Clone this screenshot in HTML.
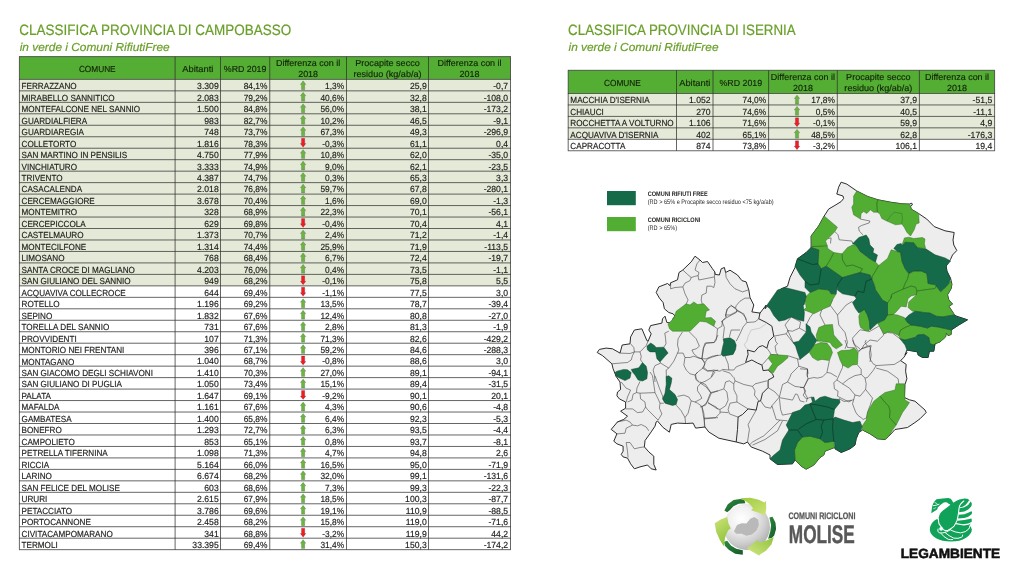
<!DOCTYPE html>
<html><head><meta charset="utf-8"><title>Classifica Comuni Ricicloni Molise</title><style>*{margin:0;padding:0}html,body{width:1024px;height:576px;background:#fff;overflow:hidden}
svg{display:block;font-family:"Liberation Sans",sans-serif;text-rendering:geometricPrecision}</style></head><body>
<svg width="1024" height="576" viewBox="0 0 1024 576">
<rect width="1024" height="576" fill="#fff"/>
<g opacity="0.999">
<g fill="#6a9f2a" stroke="#6a9f2a" stroke-width="0.2">
<text font-size="14.95" transform="translate(19.3 35.4) scale(0.9025 1)">CLASSIFICA PROVINCIA DI CAMPOBASSO</text>
<text font-size="11.5" font-style="italic" transform="translate(19.7 50.6) scale(1.034 1)">in verde i Comuni RifiutiFree</text>
<text font-size="14.95" transform="translate(568.1 35.4) scale(0.893 1)">CLASSIFICA PROVINCIA DI ISERNIA</text>
<text font-size="11.5" font-style="italic" transform="translate(568.5 50.6) scale(1.034 1)">in verde i Comuni RifiutiFree</text>
</g>
<rect x="19.4" y="56.6" width="491.10" height="22.80" fill="#54ae33"/>
<rect x="19.4" y="79.4" width="491.10" height="206.46" fill="#e5ead8"/>
<path d="M19.05 56.60H510.85M19.05 79.40H510.85M19.05 90.87H510.85M19.05 102.34H510.85M19.05 113.81H510.85M19.05 125.28H510.85M19.05 136.75H510.85M19.05 148.22H510.85M19.05 159.69H510.85M19.05 171.16H510.85M19.05 182.63H510.85M19.05 194.10H510.85M19.05 205.57H510.85M19.05 217.04H510.85M19.05 228.51H510.85M19.05 239.98H510.85M19.05 251.45H510.85M19.05 262.92H510.85M19.05 274.39H510.85M19.05 285.86H510.85M19.05 297.33H510.85M19.05 308.80H510.85M19.05 320.27H510.85M19.05 331.74H510.85M19.05 343.21H510.85M19.05 354.68H510.85M19.05 366.15H510.85M19.05 377.62H510.85M19.05 389.09H510.85M19.05 400.56H510.85M19.05 412.03H510.85M19.05 423.50H510.85M19.05 434.97H510.85M19.05 446.44H510.85M19.05 457.91H510.85M19.05 469.38H510.85M19.05 480.85H510.85M19.05 492.32H510.85M19.05 503.79H510.85M19.05 515.26H510.85M19.05 526.73H510.85M19.05 538.20H510.85M19.05 549.67H510.85M19.40 56.60V549.67M175.10 56.60V549.67M220.50 56.60V549.67M269.75 56.60V549.67M346.50 56.60V549.67M428.50 56.60V549.67M510.50 56.60V549.67" stroke="#333" stroke-width="0.75" fill="none"/>
<g font-size="8.8" fill="#13220b" stroke="#13220b" stroke-width="0.14" text-anchor="middle">
<text transform="translate(97.25 72.00) scale(0.94 1)">COMUNE</text>
<text transform="translate(197.80 72.00) scale(1.06 1)">Abitanti</text>
<text transform="translate(245.12 72.00) scale(1.0 1)">%RD 2019</text>
<text transform="translate(308.12 65.70) scale(1.02 1)">Differenza con il</text>
<text transform="translate(308.12 77.30) scale(1.02 1)">2018</text>
<text transform="translate(387.50 65.70) scale(1.03 1)">Procapite secco</text>
<text transform="translate(387.50 77.30) scale(1.03 1)">residuo (kg/ab/a)</text>
<text transform="translate(469.50 65.70) scale(1.02 1)">Differenza con il</text>
<text transform="translate(469.50 77.30) scale(1.02 1)">2018</text>
</g>
<g font-size="8.8" fill="#1d1d1b" stroke="#1d1d1b" stroke-width="0.16">
<text transform="matrix(0.925 0.0004 0 1 21.55 89.22)">FERRAZZANO</text>
<text text-anchor="end" transform="matrix(0.98 0.0004 0 1 218.70 89.22)">3.309</text>
<text text-anchor="end" transform="matrix(0.95 0.0004 0 1 267.35 89.22)">84,1%</text>
<text text-anchor="end" transform="matrix(0.95 0.0004 0 1 344.10 89.22)">1,3%</text>
<text text-anchor="end" transform="matrix(0.98 0.0004 0 1 426.70 89.22)">25,9</text>
<text text-anchor="end" transform="matrix(0.98 0.0004 0 1 508.10 89.22)">-0,7</text>
<path transform="translate(303.1 80.80)" d="M0 0 L2.8 3.6 L1.65 3.6 L1.65 9 L-1.65 9 L-1.65 3.6 L-2.8 3.6 Z" fill="#6cb244"/>
<text transform="matrix(0.925 0.0004 0 1 21.55 100.69)">MIRABELLO SANNITICO</text>
<text text-anchor="end" transform="matrix(0.98 0.0004 0 1 218.70 100.69)">2.083</text>
<text text-anchor="end" transform="matrix(0.95 0.0004 0 1 267.35 100.69)">79,2%</text>
<text text-anchor="end" transform="matrix(0.95 0.0004 0 1 344.10 100.69)">40,6%</text>
<text text-anchor="end" transform="matrix(0.98 0.0004 0 1 426.70 100.69)">32,8</text>
<text text-anchor="end" transform="matrix(0.98 0.0004 0 1 508.10 100.69)">-108,0</text>
<path transform="translate(303.1 92.27)" d="M0 0 L2.8 3.6 L1.65 3.6 L1.65 9 L-1.65 9 L-1.65 3.6 L-2.8 3.6 Z" fill="#6cb244"/>
<text transform="matrix(0.925 0.0004 0 1 21.55 112.16)">MONTEFALCONE NEL SANNIO</text>
<text text-anchor="end" transform="matrix(0.98 0.0004 0 1 218.70 112.16)">1.500</text>
<text text-anchor="end" transform="matrix(0.95 0.0004 0 1 267.35 112.16)">84,8%</text>
<text text-anchor="end" transform="matrix(0.95 0.0004 0 1 344.10 112.16)">56,0%</text>
<text text-anchor="end" transform="matrix(0.98 0.0004 0 1 426.70 112.16)">38,1</text>
<text text-anchor="end" transform="matrix(0.98 0.0004 0 1 508.10 112.16)">-173,2</text>
<path transform="translate(303.1 103.74)" d="M0 0 L2.8 3.6 L1.65 3.6 L1.65 9 L-1.65 9 L-1.65 3.6 L-2.8 3.6 Z" fill="#6cb244"/>
<text transform="matrix(0.925 0.0004 0 1 21.55 123.63)">GUARDIALFIERA</text>
<text text-anchor="end" transform="matrix(0.98 0.0004 0 1 218.70 123.63)">983</text>
<text text-anchor="end" transform="matrix(0.95 0.0004 0 1 267.35 123.63)">82,7%</text>
<text text-anchor="end" transform="matrix(0.95 0.0004 0 1 344.10 123.63)">10,2%</text>
<text text-anchor="end" transform="matrix(0.98 0.0004 0 1 426.70 123.63)">46,5</text>
<text text-anchor="end" transform="matrix(0.98 0.0004 0 1 508.10 123.63)">-9,1</text>
<path transform="translate(303.1 115.21)" d="M0 0 L2.8 3.6 L1.65 3.6 L1.65 9 L-1.65 9 L-1.65 3.6 L-2.8 3.6 Z" fill="#6cb244"/>
<text transform="matrix(0.925 0.0004 0 1 21.55 135.10)">GUARDIAREGIA</text>
<text text-anchor="end" transform="matrix(0.98 0.0004 0 1 218.70 135.10)">748</text>
<text text-anchor="end" transform="matrix(0.95 0.0004 0 1 267.35 135.10)">73,7%</text>
<text text-anchor="end" transform="matrix(0.95 0.0004 0 1 344.10 135.10)">67,3%</text>
<text text-anchor="end" transform="matrix(0.98 0.0004 0 1 426.70 135.10)">49,3</text>
<text text-anchor="end" transform="matrix(0.98 0.0004 0 1 508.10 135.10)">-296,9</text>
<path transform="translate(303.1 126.68)" d="M0 0 L2.8 3.6 L1.65 3.6 L1.65 9 L-1.65 9 L-1.65 3.6 L-2.8 3.6 Z" fill="#6cb244"/>
<text transform="matrix(0.925 0.0004 0 1 21.55 146.57)">COLLETORTO</text>
<text text-anchor="end" transform="matrix(0.98 0.0004 0 1 218.70 146.57)">1.816</text>
<text text-anchor="end" transform="matrix(0.95 0.0004 0 1 267.35 146.57)">78,3%</text>
<text text-anchor="end" transform="matrix(0.95 0.0004 0 1 344.10 146.57)">-0,3%</text>
<text text-anchor="end" transform="matrix(0.98 0.0004 0 1 426.70 146.57)">61,1</text>
<text text-anchor="end" transform="matrix(0.98 0.0004 0 1 508.10 146.57)">0,4</text>
<path transform="translate(303.1 138.15)" d="M0 9 L2.8 5.4 L1.65 5.4 L1.65 0 L-1.65 0 L-1.65 5.4 L-2.8 5.4 Z" fill="#ec1d24"/>
<text transform="matrix(0.925 0.0004 0 1 21.55 158.04)">SAN MARTINO IN PENSILIS</text>
<text text-anchor="end" transform="matrix(0.98 0.0004 0 1 218.70 158.04)">4.750</text>
<text text-anchor="end" transform="matrix(0.95 0.0004 0 1 267.35 158.04)">77,9%</text>
<text text-anchor="end" transform="matrix(0.95 0.0004 0 1 344.10 158.04)">10,8%</text>
<text text-anchor="end" transform="matrix(0.98 0.0004 0 1 426.70 158.04)">62,0</text>
<text text-anchor="end" transform="matrix(0.98 0.0004 0 1 508.10 158.04)">-35,0</text>
<path transform="translate(303.1 149.62)" d="M0 0 L2.8 3.6 L1.65 3.6 L1.65 9 L-1.65 9 L-1.65 3.6 L-2.8 3.6 Z" fill="#6cb244"/>
<text transform="matrix(0.925 0.0004 0 1 21.55 169.51)">VINCHIATURO</text>
<text text-anchor="end" transform="matrix(0.98 0.0004 0 1 218.70 169.51)">3.333</text>
<text text-anchor="end" transform="matrix(0.95 0.0004 0 1 267.35 169.51)">74,9%</text>
<text text-anchor="end" transform="matrix(0.95 0.0004 0 1 344.10 169.51)">9,0%</text>
<text text-anchor="end" transform="matrix(0.98 0.0004 0 1 426.70 169.51)">62,1</text>
<text text-anchor="end" transform="matrix(0.98 0.0004 0 1 508.10 169.51)">-23,5</text>
<path transform="translate(303.1 161.09)" d="M0 0 L2.8 3.6 L1.65 3.6 L1.65 9 L-1.65 9 L-1.65 3.6 L-2.8 3.6 Z" fill="#6cb244"/>
<text transform="matrix(0.925 0.0004 0 1 21.55 180.98)">TRIVENTO</text>
<text text-anchor="end" transform="matrix(0.98 0.0004 0 1 218.70 180.98)">4.387</text>
<text text-anchor="end" transform="matrix(0.95 0.0004 0 1 267.35 180.98)">74,7%</text>
<text text-anchor="end" transform="matrix(0.95 0.0004 0 1 344.10 180.98)">0,3%</text>
<text text-anchor="end" transform="matrix(0.98 0.0004 0 1 426.70 180.98)">65,3</text>
<text text-anchor="end" transform="matrix(0.98 0.0004 0 1 508.10 180.98)">3,3</text>
<path transform="translate(303.1 172.56)" d="M0 0 L2.8 3.6 L1.65 3.6 L1.65 9 L-1.65 9 L-1.65 3.6 L-2.8 3.6 Z" fill="#6cb244"/>
<text transform="matrix(0.925 0.0004 0 1 21.55 192.45)">CASACALENDA</text>
<text text-anchor="end" transform="matrix(0.98 0.0004 0 1 218.70 192.45)">2.018</text>
<text text-anchor="end" transform="matrix(0.95 0.0004 0 1 267.35 192.45)">76,8%</text>
<text text-anchor="end" transform="matrix(0.95 0.0004 0 1 344.10 192.45)">59,7%</text>
<text text-anchor="end" transform="matrix(0.98 0.0004 0 1 426.70 192.45)">67,8</text>
<text text-anchor="end" transform="matrix(0.98 0.0004 0 1 508.10 192.45)">-280,1</text>
<path transform="translate(303.1 184.03)" d="M0 0 L2.8 3.6 L1.65 3.6 L1.65 9 L-1.65 9 L-1.65 3.6 L-2.8 3.6 Z" fill="#6cb244"/>
<text transform="matrix(0.925 0.0004 0 1 21.55 203.92)">CERCEMAGGIORE</text>
<text text-anchor="end" transform="matrix(0.98 0.0004 0 1 218.70 203.92)">3.678</text>
<text text-anchor="end" transform="matrix(0.95 0.0004 0 1 267.35 203.92)">70,4%</text>
<text text-anchor="end" transform="matrix(0.95 0.0004 0 1 344.10 203.92)">1,6%</text>
<text text-anchor="end" transform="matrix(0.98 0.0004 0 1 426.70 203.92)">69,0</text>
<text text-anchor="end" transform="matrix(0.98 0.0004 0 1 508.10 203.92)">-1,3</text>
<path transform="translate(303.1 195.50)" d="M0 0 L2.8 3.6 L1.65 3.6 L1.65 9 L-1.65 9 L-1.65 3.6 L-2.8 3.6 Z" fill="#6cb244"/>
<text transform="matrix(0.925 0.0004 0 1 21.55 215.39)">MONTEMITRO</text>
<text text-anchor="end" transform="matrix(0.98 0.0004 0 1 218.70 215.39)">328</text>
<text text-anchor="end" transform="matrix(0.95 0.0004 0 1 267.35 215.39)">68,9%</text>
<text text-anchor="end" transform="matrix(0.95 0.0004 0 1 344.10 215.39)">22,3%</text>
<text text-anchor="end" transform="matrix(0.98 0.0004 0 1 426.70 215.39)">70,1</text>
<text text-anchor="end" transform="matrix(0.98 0.0004 0 1 508.10 215.39)">-56,1</text>
<path transform="translate(303.1 206.97)" d="M0 0 L2.8 3.6 L1.65 3.6 L1.65 9 L-1.65 9 L-1.65 3.6 L-2.8 3.6 Z" fill="#6cb244"/>
<text transform="matrix(0.925 0.0004 0 1 21.55 226.86)">CERCEPICCOLA</text>
<text text-anchor="end" transform="matrix(0.98 0.0004 0 1 218.70 226.86)">629</text>
<text text-anchor="end" transform="matrix(0.95 0.0004 0 1 267.35 226.86)">69,8%</text>
<text text-anchor="end" transform="matrix(0.95 0.0004 0 1 344.10 226.86)">-0,4%</text>
<text text-anchor="end" transform="matrix(0.98 0.0004 0 1 426.70 226.86)">70,4</text>
<text text-anchor="end" transform="matrix(0.98 0.0004 0 1 508.10 226.86)">4,1</text>
<path transform="translate(303.1 218.44)" d="M0 9 L2.8 5.4 L1.65 5.4 L1.65 0 L-1.65 0 L-1.65 5.4 L-2.8 5.4 Z" fill="#ec1d24"/>
<text transform="matrix(0.925 0.0004 0 1 21.55 238.33)">CASTELMAURO</text>
<text text-anchor="end" transform="matrix(0.98 0.0004 0 1 218.70 238.33)">1.373</text>
<text text-anchor="end" transform="matrix(0.95 0.0004 0 1 267.35 238.33)">70,7%</text>
<text text-anchor="end" transform="matrix(0.95 0.0004 0 1 344.10 238.33)">2,4%</text>
<text text-anchor="end" transform="matrix(0.98 0.0004 0 1 426.70 238.33)">71,2</text>
<text text-anchor="end" transform="matrix(0.98 0.0004 0 1 508.10 238.33)">-1,4</text>
<path transform="translate(303.1 229.91)" d="M0 0 L2.8 3.6 L1.65 3.6 L1.65 9 L-1.65 9 L-1.65 3.6 L-2.8 3.6 Z" fill="#6cb244"/>
<text transform="matrix(0.925 0.0004 0 1 21.55 249.80)">MONTECILFONE</text>
<text text-anchor="end" transform="matrix(0.98 0.0004 0 1 218.70 249.80)">1.314</text>
<text text-anchor="end" transform="matrix(0.95 0.0004 0 1 267.35 249.80)">74,4%</text>
<text text-anchor="end" transform="matrix(0.95 0.0004 0 1 344.10 249.80)">25,9%</text>
<text text-anchor="end" transform="matrix(0.98 0.0004 0 1 426.70 249.80)">71,9</text>
<text text-anchor="end" transform="matrix(0.98 0.0004 0 1 508.10 249.80)">-113,5</text>
<path transform="translate(303.1 241.38)" d="M0 0 L2.8 3.6 L1.65 3.6 L1.65 9 L-1.65 9 L-1.65 3.6 L-2.8 3.6 Z" fill="#6cb244"/>
<text transform="matrix(0.925 0.0004 0 1 21.55 261.27)">LIMOSANO</text>
<text text-anchor="end" transform="matrix(0.98 0.0004 0 1 218.70 261.27)">768</text>
<text text-anchor="end" transform="matrix(0.95 0.0004 0 1 267.35 261.27)">68,4%</text>
<text text-anchor="end" transform="matrix(0.95 0.0004 0 1 344.10 261.27)">6,7%</text>
<text text-anchor="end" transform="matrix(0.98 0.0004 0 1 426.70 261.27)">72,4</text>
<text text-anchor="end" transform="matrix(0.98 0.0004 0 1 508.10 261.27)">-19,7</text>
<path transform="translate(303.1 252.85)" d="M0 0 L2.8 3.6 L1.65 3.6 L1.65 9 L-1.65 9 L-1.65 3.6 L-2.8 3.6 Z" fill="#6cb244"/>
<text transform="matrix(0.925 0.0004 0 1 21.55 272.74)">SANTA CROCE DI MAGLIANO</text>
<text text-anchor="end" transform="matrix(0.98 0.0004 0 1 218.70 272.74)">4.203</text>
<text text-anchor="end" transform="matrix(0.95 0.0004 0 1 267.35 272.74)">76,0%</text>
<text text-anchor="end" transform="matrix(0.95 0.0004 0 1 344.10 272.74)">0,4%</text>
<text text-anchor="end" transform="matrix(0.98 0.0004 0 1 426.70 272.74)">73,5</text>
<text text-anchor="end" transform="matrix(0.98 0.0004 0 1 508.10 272.74)">-1,1</text>
<path transform="translate(303.1 264.32)" d="M0 0 L2.8 3.6 L1.65 3.6 L1.65 9 L-1.65 9 L-1.65 3.6 L-2.8 3.6 Z" fill="#6cb244"/>
<text transform="matrix(0.925 0.0004 0 1 21.55 284.21)">SAN GIULIANO DEL SANNIO</text>
<text text-anchor="end" transform="matrix(0.98 0.0004 0 1 218.70 284.21)">949</text>
<text text-anchor="end" transform="matrix(0.95 0.0004 0 1 267.35 284.21)">68,2%</text>
<text text-anchor="end" transform="matrix(0.95 0.0004 0 1 344.10 284.21)">-0,1%</text>
<text text-anchor="end" transform="matrix(0.98 0.0004 0 1 426.70 284.21)">75,8</text>
<text text-anchor="end" transform="matrix(0.98 0.0004 0 1 508.10 284.21)">5,5</text>
<path transform="translate(303.1 275.79)" d="M0 9 L2.8 5.4 L1.65 5.4 L1.65 0 L-1.65 0 L-1.65 5.4 L-2.8 5.4 Z" fill="#ec1d24"/>
<text transform="matrix(0.925 0.0004 0 1 21.55 295.68)">ACQUAVIVA COLLECROCE</text>
<text text-anchor="end" transform="matrix(0.98 0.0004 0 1 218.70 295.68)">644</text>
<text text-anchor="end" transform="matrix(0.95 0.0004 0 1 267.35 295.68)">69,4%</text>
<text text-anchor="end" transform="matrix(0.95 0.0004 0 1 344.10 295.68)">-1,1%</text>
<text text-anchor="end" transform="matrix(0.98 0.0004 0 1 426.70 295.68)">77,5</text>
<text text-anchor="end" transform="matrix(0.98 0.0004 0 1 508.10 295.68)">3,0</text>
<path transform="translate(303.1 287.26)" d="M0 9 L2.8 5.4 L1.65 5.4 L1.65 0 L-1.65 0 L-1.65 5.4 L-2.8 5.4 Z" fill="#ec1d24"/>
<text transform="matrix(0.925 0.0004 0 1 21.55 307.15)">ROTELLO</text>
<text text-anchor="end" transform="matrix(0.98 0.0004 0 1 218.70 307.15)">1.196</text>
<text text-anchor="end" transform="matrix(0.95 0.0004 0 1 267.35 307.15)">69,2%</text>
<text text-anchor="end" transform="matrix(0.95 0.0004 0 1 344.10 307.15)">13,5%</text>
<text text-anchor="end" transform="matrix(0.98 0.0004 0 1 426.70 307.15)">78,7</text>
<text text-anchor="end" transform="matrix(0.98 0.0004 0 1 508.10 307.15)">-39,4</text>
<path transform="translate(303.1 298.73)" d="M0 0 L2.8 3.6 L1.65 3.6 L1.65 9 L-1.65 9 L-1.65 3.6 L-2.8 3.6 Z" fill="#6cb244"/>
<text transform="matrix(0.925 0.0004 0 1 21.55 318.62)">SEPINO</text>
<text text-anchor="end" transform="matrix(0.98 0.0004 0 1 218.70 318.62)">1.832</text>
<text text-anchor="end" transform="matrix(0.95 0.0004 0 1 267.35 318.62)">67,6%</text>
<text text-anchor="end" transform="matrix(0.95 0.0004 0 1 344.10 318.62)">12,4%</text>
<text text-anchor="end" transform="matrix(0.98 0.0004 0 1 426.70 318.62)">80,8</text>
<text text-anchor="end" transform="matrix(0.98 0.0004 0 1 508.10 318.62)">-27,0</text>
<path transform="translate(303.1 310.20)" d="M0 0 L2.8 3.6 L1.65 3.6 L1.65 9 L-1.65 9 L-1.65 3.6 L-2.8 3.6 Z" fill="#6cb244"/>
<text transform="matrix(0.925 0.0004 0 1 21.55 330.09)">TORELLA DEL SANNIO</text>
<text text-anchor="end" transform="matrix(0.98 0.0004 0 1 218.70 330.09)">731</text>
<text text-anchor="end" transform="matrix(0.95 0.0004 0 1 267.35 330.09)">67,6%</text>
<text text-anchor="end" transform="matrix(0.95 0.0004 0 1 344.10 330.09)">2,8%</text>
<text text-anchor="end" transform="matrix(0.98 0.0004 0 1 426.70 330.09)">81,3</text>
<text text-anchor="end" transform="matrix(0.98 0.0004 0 1 508.10 330.09)">-1,9</text>
<path transform="translate(303.1 321.67)" d="M0 0 L2.8 3.6 L1.65 3.6 L1.65 9 L-1.65 9 L-1.65 3.6 L-2.8 3.6 Z" fill="#6cb244"/>
<text transform="matrix(0.925 0.0004 0 1 21.55 341.56)">PROVVIDENTI</text>
<text text-anchor="end" transform="matrix(0.98 0.0004 0 1 218.70 341.56)">107</text>
<text text-anchor="end" transform="matrix(0.95 0.0004 0 1 267.35 341.56)">71,3%</text>
<text text-anchor="end" transform="matrix(0.95 0.0004 0 1 344.10 341.56)">71,3%</text>
<text text-anchor="end" transform="matrix(0.98 0.0004 0 1 426.70 341.56)">82,6</text>
<text text-anchor="end" transform="matrix(0.98 0.0004 0 1 508.10 341.56)">-429,2</text>
<path transform="translate(303.1 333.14)" d="M0 0 L2.8 3.6 L1.65 3.6 L1.65 9 L-1.65 9 L-1.65 3.6 L-2.8 3.6 Z" fill="#6cb244"/>
<text transform="matrix(0.925 0.0004 0 1 21.55 353.03)">MONTORIO NEI FRENTANI</text>
<text text-anchor="end" transform="matrix(0.98 0.0004 0 1 218.70 353.03)">396</text>
<text text-anchor="end" transform="matrix(0.95 0.0004 0 1 267.35 353.03)">67,1%</text>
<text text-anchor="end" transform="matrix(0.95 0.0004 0 1 344.10 353.03)">59,2%</text>
<text text-anchor="end" transform="matrix(0.98 0.0004 0 1 426.70 353.03)">84,6</text>
<text text-anchor="end" transform="matrix(0.98 0.0004 0 1 508.10 353.03)">-288,3</text>
<path transform="translate(303.1 344.61)" d="M0 0 L2.8 3.6 L1.65 3.6 L1.65 9 L-1.65 9 L-1.65 3.6 L-2.8 3.6 Z" fill="#6cb244"/>
<text transform="matrix(0.925 0.0004 0 1 21.55 364.50)">MONTAGANO</text>
<text text-anchor="end" transform="matrix(0.98 0.0004 0 1 218.70 364.50)">1.040</text>
<text text-anchor="end" transform="matrix(0.95 0.0004 0 1 267.35 364.50)">68,7%</text>
<text text-anchor="end" transform="matrix(0.95 0.0004 0 1 344.10 364.50)">-0,8%</text>
<text text-anchor="end" transform="matrix(0.98 0.0004 0 1 426.70 364.50)">88,6</text>
<text text-anchor="end" transform="matrix(0.98 0.0004 0 1 508.10 364.50)">3,0</text>
<path transform="translate(303.1 356.08)" d="M0 9 L2.8 5.4 L1.65 5.4 L1.65 0 L-1.65 0 L-1.65 5.4 L-2.8 5.4 Z" fill="#ec1d24"/>
<text transform="matrix(0.925 0.0004 0 1 21.55 375.97)">SAN GIACOMO DEGLI SCHIAVONI</text>
<text text-anchor="end" transform="matrix(0.98 0.0004 0 1 218.70 375.97)">1.410</text>
<text text-anchor="end" transform="matrix(0.95 0.0004 0 1 267.35 375.97)">70,3%</text>
<text text-anchor="end" transform="matrix(0.95 0.0004 0 1 344.10 375.97)">27,0%</text>
<text text-anchor="end" transform="matrix(0.98 0.0004 0 1 426.70 375.97)">89,1</text>
<text text-anchor="end" transform="matrix(0.98 0.0004 0 1 508.10 375.97)">-94,1</text>
<path transform="translate(303.1 367.55)" d="M0 0 L2.8 3.6 L1.65 3.6 L1.65 9 L-1.65 9 L-1.65 3.6 L-2.8 3.6 Z" fill="#6cb244"/>
<text transform="matrix(0.925 0.0004 0 1 21.55 387.44)">SAN GIULIANO DI PUGLIA</text>
<text text-anchor="end" transform="matrix(0.98 0.0004 0 1 218.70 387.44)">1.050</text>
<text text-anchor="end" transform="matrix(0.95 0.0004 0 1 267.35 387.44)">73,4%</text>
<text text-anchor="end" transform="matrix(0.95 0.0004 0 1 344.10 387.44)">15,1%</text>
<text text-anchor="end" transform="matrix(0.98 0.0004 0 1 426.70 387.44)">89,4</text>
<text text-anchor="end" transform="matrix(0.98 0.0004 0 1 508.10 387.44)">-31,5</text>
<path transform="translate(303.1 379.02)" d="M0 0 L2.8 3.6 L1.65 3.6 L1.65 9 L-1.65 9 L-1.65 3.6 L-2.8 3.6 Z" fill="#6cb244"/>
<text transform="matrix(0.925 0.0004 0 1 21.55 398.91)">PALATA</text>
<text text-anchor="end" transform="matrix(0.98 0.0004 0 1 218.70 398.91)">1.647</text>
<text text-anchor="end" transform="matrix(0.95 0.0004 0 1 267.35 398.91)">69,1%</text>
<text text-anchor="end" transform="matrix(0.95 0.0004 0 1 344.10 398.91)">-9,2%</text>
<text text-anchor="end" transform="matrix(0.98 0.0004 0 1 426.70 398.91)">90,1</text>
<text text-anchor="end" transform="matrix(0.98 0.0004 0 1 508.10 398.91)">20,1</text>
<path transform="translate(303.1 390.49)" d="M0 9 L2.8 5.4 L1.65 5.4 L1.65 0 L-1.65 0 L-1.65 5.4 L-2.8 5.4 Z" fill="#ec1d24"/>
<text transform="matrix(0.925 0.0004 0 1 21.55 410.38)">MAFALDA</text>
<text text-anchor="end" transform="matrix(0.98 0.0004 0 1 218.70 410.38)">1.161</text>
<text text-anchor="end" transform="matrix(0.95 0.0004 0 1 267.35 410.38)">67,6%</text>
<text text-anchor="end" transform="matrix(0.95 0.0004 0 1 344.10 410.38)">4,3%</text>
<text text-anchor="end" transform="matrix(0.98 0.0004 0 1 426.70 410.38)">90,6</text>
<text text-anchor="end" transform="matrix(0.98 0.0004 0 1 508.10 410.38)">-4,8</text>
<path transform="translate(303.1 401.96)" d="M0 0 L2.8 3.6 L1.65 3.6 L1.65 9 L-1.65 9 L-1.65 3.6 L-2.8 3.6 Z" fill="#6cb244"/>
<text transform="matrix(0.925 0.0004 0 1 21.55 421.85)">GAMBATESA</text>
<text text-anchor="end" transform="matrix(0.98 0.0004 0 1 218.70 421.85)">1.400</text>
<text text-anchor="end" transform="matrix(0.95 0.0004 0 1 267.35 421.85)">65,8%</text>
<text text-anchor="end" transform="matrix(0.95 0.0004 0 1 344.10 421.85)">6,4%</text>
<text text-anchor="end" transform="matrix(0.98 0.0004 0 1 426.70 421.85)">92,3</text>
<text text-anchor="end" transform="matrix(0.98 0.0004 0 1 508.10 421.85)">-5,3</text>
<path transform="translate(303.1 413.43)" d="M0 0 L2.8 3.6 L1.65 3.6 L1.65 9 L-1.65 9 L-1.65 3.6 L-2.8 3.6 Z" fill="#6cb244"/>
<text transform="matrix(0.925 0.0004 0 1 21.55 433.32)">BONEFRO</text>
<text text-anchor="end" transform="matrix(0.98 0.0004 0 1 218.70 433.32)">1.293</text>
<text text-anchor="end" transform="matrix(0.95 0.0004 0 1 267.35 433.32)">72,7%</text>
<text text-anchor="end" transform="matrix(0.95 0.0004 0 1 344.10 433.32)">6,3%</text>
<text text-anchor="end" transform="matrix(0.98 0.0004 0 1 426.70 433.32)">93,5</text>
<text text-anchor="end" transform="matrix(0.98 0.0004 0 1 508.10 433.32)">-4,4</text>
<path transform="translate(303.1 424.90)" d="M0 0 L2.8 3.6 L1.65 3.6 L1.65 9 L-1.65 9 L-1.65 3.6 L-2.8 3.6 Z" fill="#6cb244"/>
<text transform="matrix(0.925 0.0004 0 1 21.55 444.79)">CAMPOLIETO</text>
<text text-anchor="end" transform="matrix(0.98 0.0004 0 1 218.70 444.79)">853</text>
<text text-anchor="end" transform="matrix(0.95 0.0004 0 1 267.35 444.79)">65,1%</text>
<text text-anchor="end" transform="matrix(0.95 0.0004 0 1 344.10 444.79)">0,8%</text>
<text text-anchor="end" transform="matrix(0.98 0.0004 0 1 426.70 444.79)">93,7</text>
<text text-anchor="end" transform="matrix(0.98 0.0004 0 1 508.10 444.79)">-8,1</text>
<path transform="translate(303.1 436.37)" d="M0 0 L2.8 3.6 L1.65 3.6 L1.65 9 L-1.65 9 L-1.65 3.6 L-2.8 3.6 Z" fill="#6cb244"/>
<text transform="matrix(0.925 0.0004 0 1 21.55 456.26)">PETRELLA TIFERNINA</text>
<text text-anchor="end" transform="matrix(0.98 0.0004 0 1 218.70 456.26)">1.098</text>
<text text-anchor="end" transform="matrix(0.95 0.0004 0 1 267.35 456.26)">71,3%</text>
<text text-anchor="end" transform="matrix(0.95 0.0004 0 1 344.10 456.26)">4,7%</text>
<text text-anchor="end" transform="matrix(0.98 0.0004 0 1 426.70 456.26)">94,8</text>
<text text-anchor="end" transform="matrix(0.98 0.0004 0 1 508.10 456.26)">2,6</text>
<path transform="translate(303.1 447.84)" d="M0 0 L2.8 3.6 L1.65 3.6 L1.65 9 L-1.65 9 L-1.65 3.6 L-2.8 3.6 Z" fill="#6cb244"/>
<text transform="matrix(0.925 0.0004 0 1 21.55 467.73)">RICCIA</text>
<text text-anchor="end" transform="matrix(0.98 0.0004 0 1 218.70 467.73)">5.164</text>
<text text-anchor="end" transform="matrix(0.95 0.0004 0 1 267.35 467.73)">66,0%</text>
<text text-anchor="end" transform="matrix(0.95 0.0004 0 1 344.10 467.73)">16,5%</text>
<text text-anchor="end" transform="matrix(0.98 0.0004 0 1 426.70 467.73)">95,0</text>
<text text-anchor="end" transform="matrix(0.98 0.0004 0 1 508.10 467.73)">-71,9</text>
<path transform="translate(303.1 459.31)" d="M0 0 L2.8 3.6 L1.65 3.6 L1.65 9 L-1.65 9 L-1.65 3.6 L-2.8 3.6 Z" fill="#6cb244"/>
<text transform="matrix(0.925 0.0004 0 1 21.55 479.20)">LARINO</text>
<text text-anchor="end" transform="matrix(0.98 0.0004 0 1 218.70 479.20)">6.674</text>
<text text-anchor="end" transform="matrix(0.95 0.0004 0 1 267.35 479.20)">68,2%</text>
<text text-anchor="end" transform="matrix(0.95 0.0004 0 1 344.10 479.20)">32,0%</text>
<text text-anchor="end" transform="matrix(0.98 0.0004 0 1 426.70 479.20)">99,1</text>
<text text-anchor="end" transform="matrix(0.98 0.0004 0 1 508.10 479.20)">-131,6</text>
<path transform="translate(303.1 470.78)" d="M0 0 L2.8 3.6 L1.65 3.6 L1.65 9 L-1.65 9 L-1.65 3.6 L-2.8 3.6 Z" fill="#6cb244"/>
<text transform="matrix(0.925 0.0004 0 1 21.55 490.67)">SAN FELICE DEL MOLISE</text>
<text text-anchor="end" transform="matrix(0.98 0.0004 0 1 218.70 490.67)">603</text>
<text text-anchor="end" transform="matrix(0.95 0.0004 0 1 267.35 490.67)">68,6%</text>
<text text-anchor="end" transform="matrix(0.95 0.0004 0 1 344.10 490.67)">7,3%</text>
<text text-anchor="end" transform="matrix(0.98 0.0004 0 1 426.70 490.67)">99,3</text>
<text text-anchor="end" transform="matrix(0.98 0.0004 0 1 508.10 490.67)">-22,3</text>
<path transform="translate(303.1 482.25)" d="M0 0 L2.8 3.6 L1.65 3.6 L1.65 9 L-1.65 9 L-1.65 3.6 L-2.8 3.6 Z" fill="#6cb244"/>
<text transform="matrix(0.925 0.0004 0 1 21.55 502.14)">URURI</text>
<text text-anchor="end" transform="matrix(0.98 0.0004 0 1 218.70 502.14)">2.615</text>
<text text-anchor="end" transform="matrix(0.95 0.0004 0 1 267.35 502.14)">67,9%</text>
<text text-anchor="end" transform="matrix(0.95 0.0004 0 1 344.10 502.14)">18,5%</text>
<text text-anchor="end" transform="matrix(0.98 0.0004 0 1 426.70 502.14)">100,3</text>
<text text-anchor="end" transform="matrix(0.98 0.0004 0 1 508.10 502.14)">-87,7</text>
<path transform="translate(303.1 493.72)" d="M0 0 L2.8 3.6 L1.65 3.6 L1.65 9 L-1.65 9 L-1.65 3.6 L-2.8 3.6 Z" fill="#6cb244"/>
<text transform="matrix(0.925 0.0004 0 1 21.55 513.61)">PETACCIATO</text>
<text text-anchor="end" transform="matrix(0.98 0.0004 0 1 218.70 513.61)">3.786</text>
<text text-anchor="end" transform="matrix(0.95 0.0004 0 1 267.35 513.61)">69,6%</text>
<text text-anchor="end" transform="matrix(0.95 0.0004 0 1 344.10 513.61)">19,1%</text>
<text text-anchor="end" transform="matrix(0.98 0.0004 0 1 426.70 513.61)">110,9</text>
<text text-anchor="end" transform="matrix(0.98 0.0004 0 1 508.10 513.61)">-88,5</text>
<path transform="translate(303.1 505.19)" d="M0 0 L2.8 3.6 L1.65 3.6 L1.65 9 L-1.65 9 L-1.65 3.6 L-2.8 3.6 Z" fill="#6cb244"/>
<text transform="matrix(0.925 0.0004 0 1 21.55 525.08)">PORTOCANNONE</text>
<text text-anchor="end" transform="matrix(0.98 0.0004 0 1 218.70 525.08)">2.458</text>
<text text-anchor="end" transform="matrix(0.95 0.0004 0 1 267.35 525.08)">68,2%</text>
<text text-anchor="end" transform="matrix(0.95 0.0004 0 1 344.10 525.08)">15,8%</text>
<text text-anchor="end" transform="matrix(0.98 0.0004 0 1 426.70 525.08)">119,0</text>
<text text-anchor="end" transform="matrix(0.98 0.0004 0 1 508.10 525.08)">-71,6</text>
<path transform="translate(303.1 516.66)" d="M0 0 L2.8 3.6 L1.65 3.6 L1.65 9 L-1.65 9 L-1.65 3.6 L-2.8 3.6 Z" fill="#6cb244"/>
<text transform="matrix(0.925 0.0004 0 1 21.55 536.55)">CIVITACAMPOMARANO</text>
<text text-anchor="end" transform="matrix(0.98 0.0004 0 1 218.70 536.55)">341</text>
<text text-anchor="end" transform="matrix(0.95 0.0004 0 1 267.35 536.55)">68,8%</text>
<text text-anchor="end" transform="matrix(0.95 0.0004 0 1 344.10 536.55)">-3,2%</text>
<text text-anchor="end" transform="matrix(0.98 0.0004 0 1 426.70 536.55)">119,9</text>
<text text-anchor="end" transform="matrix(0.98 0.0004 0 1 508.10 536.55)">44,2</text>
<path transform="translate(303.1 528.13)" d="M0 9 L2.8 5.4 L1.65 5.4 L1.65 0 L-1.65 0 L-1.65 5.4 L-2.8 5.4 Z" fill="#ec1d24"/>
<text transform="matrix(0.925 0.0004 0 1 21.55 548.02)">TERMOLI</text>
<text text-anchor="end" transform="matrix(0.98 0.0004 0 1 218.70 548.02)">33.395</text>
<text text-anchor="end" transform="matrix(0.95 0.0004 0 1 267.35 548.02)">69,4%</text>
<text text-anchor="end" transform="matrix(0.95 0.0004 0 1 344.10 548.02)">31,4%</text>
<text text-anchor="end" transform="matrix(0.98 0.0004 0 1 426.70 548.02)">150,3</text>
<text text-anchor="end" transform="matrix(0.98 0.0004 0 1 508.10 548.02)">-174,2</text>
<path transform="translate(303.1 539.60)" d="M0 0 L2.8 3.6 L1.65 3.6 L1.65 9 L-1.65 9 L-1.65 3.6 L-2.8 3.6 Z" fill="#6cb244"/>
</g>
<rect x="568.2" y="70.3" width="426.40" height="23.20" fill="#54ae33"/>
<rect x="568.2" y="93.5" width="426.40" height="45.80" fill="#e5ead8"/>
<path d="M567.85 70.30H994.95M567.85 93.50H994.95M567.85 104.95H994.95M567.85 116.40H994.95M567.85 127.85H994.95M567.85 139.30H994.95M567.85 150.75H994.95M568.20 70.30V150.75M676.50 70.30V150.75M713.00 70.30V150.75M768.60 70.30V150.75M837.30 70.30V150.75M919.40 70.30V150.75M994.60 70.30V150.75" stroke="#333" stroke-width="0.75" fill="none"/>
<g font-size="8.8" fill="#13220b" stroke="#13220b" stroke-width="0.14" text-anchor="middle">
<text transform="translate(622.35 85.90) scale(0.94 1)">COMUNE</text>
<text transform="translate(694.75 85.90) scale(1.06 1)">Abitanti</text>
<text transform="translate(740.80 85.90) scale(1.0 1)">%RD 2019</text>
<text transform="translate(802.95 79.60) scale(1.02 1)">Differenza con il</text>
<text transform="translate(802.95 91.20) scale(1.02 1)">2018</text>
<text transform="translate(878.35 79.60) scale(1.03 1)">Procapite secco</text>
<text transform="translate(878.35 91.20) scale(1.03 1)">residuo (kg/ab/a)</text>
<text transform="translate(957.00 79.60) scale(1.02 1)">Differenza con il</text>
<text transform="translate(957.00 91.20) scale(1.02 1)">2018</text>
</g>
<g font-size="8.8" fill="#1d1d1b" stroke="#1d1d1b" stroke-width="0.16">
<text transform="matrix(0.925 0.0004 0 1 570.35 103.30)">MACCHIA D'ISERNIA</text>
<text text-anchor="end" transform="matrix(0.98 0.0004 0 1 710.60 103.30)">1.052</text>
<text text-anchor="end" transform="matrix(0.95 0.0004 0 1 766.20 103.30)">74,0%</text>
<text text-anchor="end" transform="matrix(0.95 0.0004 0 1 834.90 103.30)">17,8%</text>
<text text-anchor="end" transform="matrix(0.98 0.0004 0 1 917.00 103.30)">37,9</text>
<text text-anchor="end" transform="matrix(0.98 0.0004 0 1 992.20 103.30)">-51,5</text>
<path transform="translate(797 94.90)" d="M0 0 L2.8 3.6 L1.65 3.6 L1.65 9 L-1.65 9 L-1.65 3.6 L-2.8 3.6 Z" fill="#6cb244"/>
<text transform="matrix(0.925 0.0004 0 1 570.35 114.75)">CHIAUCI</text>
<text text-anchor="end" transform="matrix(0.98 0.0004 0 1 710.60 114.75)">270</text>
<text text-anchor="end" transform="matrix(0.95 0.0004 0 1 766.20 114.75)">74,6%</text>
<text text-anchor="end" transform="matrix(0.95 0.0004 0 1 834.90 114.75)">0,5%</text>
<text text-anchor="end" transform="matrix(0.98 0.0004 0 1 917.00 114.75)">40,5</text>
<text text-anchor="end" transform="matrix(0.98 0.0004 0 1 992.20 114.75)">-11,1</text>
<path transform="translate(797 106.35)" d="M0 0 L2.8 3.6 L1.65 3.6 L1.65 9 L-1.65 9 L-1.65 3.6 L-2.8 3.6 Z" fill="#6cb244"/>
<text transform="matrix(0.925 0.0004 0 1 570.35 126.20)">ROCCHETTA A VOLTURNO</text>
<text text-anchor="end" transform="matrix(0.98 0.0004 0 1 710.60 126.20)">1.106</text>
<text text-anchor="end" transform="matrix(0.95 0.0004 0 1 766.20 126.20)">71,6%</text>
<text text-anchor="end" transform="matrix(0.95 0.0004 0 1 834.90 126.20)">-0,1%</text>
<text text-anchor="end" transform="matrix(0.98 0.0004 0 1 917.00 126.20)">59,9</text>
<text text-anchor="end" transform="matrix(0.98 0.0004 0 1 992.20 126.20)">4,9</text>
<path transform="translate(797 117.80)" d="M0 9 L2.8 5.4 L1.65 5.4 L1.65 0 L-1.65 0 L-1.65 5.4 L-2.8 5.4 Z" fill="#ec1d24"/>
<text transform="matrix(0.925 0.0004 0 1 570.35 137.65)">ACQUAVIVA D'ISERNIA</text>
<text text-anchor="end" transform="matrix(0.98 0.0004 0 1 710.60 137.65)">402</text>
<text text-anchor="end" transform="matrix(0.95 0.0004 0 1 766.20 137.65)">65,1%</text>
<text text-anchor="end" transform="matrix(0.95 0.0004 0 1 834.90 137.65)">48,5%</text>
<text text-anchor="end" transform="matrix(0.98 0.0004 0 1 917.00 137.65)">62,8</text>
<text text-anchor="end" transform="matrix(0.98 0.0004 0 1 992.20 137.65)">-176,3</text>
<path transform="translate(797 129.25)" d="M0 0 L2.8 3.6 L1.65 3.6 L1.65 9 L-1.65 9 L-1.65 3.6 L-2.8 3.6 Z" fill="#6cb244"/>
<text transform="matrix(0.925 0.0004 0 1 570.35 149.10)">CAPRACOTTA</text>
<text text-anchor="end" transform="matrix(0.98 0.0004 0 1 710.60 149.10)">874</text>
<text text-anchor="end" transform="matrix(0.95 0.0004 0 1 766.20 149.10)">73,8%</text>
<text text-anchor="end" transform="matrix(0.95 0.0004 0 1 834.90 149.10)">-3,2%</text>
<text text-anchor="end" transform="matrix(0.98 0.0004 0 1 917.00 149.10)">106,1</text>
<text text-anchor="end" transform="matrix(0.98 0.0004 0 1 992.20 149.10)">19,4</text>
<path transform="translate(797 140.70)" d="M0 9 L2.8 5.4 L1.65 5.4 L1.65 0 L-1.65 0 L-1.65 5.4 L-2.8 5.4 Z" fill="#ec1d24"/>
</g>
<g stroke-linejoin="round">
<path d="M841.1 182.2L846.8 184.1L856.8 191.0L868.0 196.6L878.0 199.8L890.5 202.2L901.8 203.8L909.2 204.1L911.8 203.2L912.4 204.8L910.5 206.0L911.1 209.1L918.6 213.5L926.8 219.1L934.2 226.6L945.0 230.8L954.2 232.5L953.0 240.0L953.8 245.0L956.8 250.5L952.5 255.0L950.5 259.5L946.2 266.0L946.9 271.0L950.6 278.5L951.9 284.1L951.2 288.5L947.5 294.8L948.8 299.8L952.5 304.1L948.8 306.2L953.8 313.8L955.0 315.6L967.5 319.8L958.8 325.0L951.2 330.0L951.2 334.4L948.1 335.6L946.2 333.1L945.6 336.9L940.0 341.9L935.0 343.8L933.8 351.2L929.4 351.2L928.1 357.5L922.5 357.5L918.1 355.0L917.5 351.9L906.9 350.0L905.0 355.0L906.9 352.5L903.8 357.5L900.6 360.6L906.2 364.4L905.6 371.2L906.9 378.8L905.0 384.4L904.4 397.5L909.4 399.8L915.0 401.2L925.0 410.0L926.2 412.5L920.0 418.8L915.0 422.5L907.5 427.5L895.0 429.5L888.8 436.2L885.0 439.5L877.5 438.8L870.0 433.8L862.5 430.0L858.8 432.5L856.2 438.8L855.0 445.0L850.0 448.8L841.2 452.5L835.0 448.8L834.5 447.5L825.0 451.2L823.8 455.0L820.0 457.5L813.8 465.0L806.2 469.2L801.2 466.2L795.0 460.0L792.5 463.8L777.5 464.5L770.0 458.8L770.0 455.0L762.5 451.2L751.2 447.0L747.5 442.0L743.8 443.9L736.2 442.0L718.8 438.2L708.8 432.0L705.0 427.0L700.0 427.6L695.6 428.1L693.1 423.1L686.2 423.5L677.5 423.1L671.2 424.4L669.4 432.2L663.1 427.5L657.5 421.0L656.2 421.9L655.0 426.2L651.2 431.9L645.0 440.6L644.4 446.9L648.8 451.9L653.8 456.2L653.8 464.4L656.2 470.0L651.2 468.8L647.5 465.0L640.0 466.9L634.4 468.8L630.6 463.8L627.5 458.1L623.1 456.9L621.2 454.4L623.1 451.2L623.1 446.2L616.9 443.8L613.8 441.2L616.9 433.8L611.2 429.4L617.5 421.9L623.8 419.4L627.5 416.2L620.6 411.2L625.6 408.2L625.6 402.0L619.4 398.9L616.9 395.8L617.5 392.0L620.6 389.5L620.0 382.0L615.6 375.8L615.6 375.0L613.1 368.8L611.9 363.8L602.5 355.6L597.2 352.5L599.4 349.4L606.2 348.1L612.5 348.8L620.0 353.1L622.2 345.0L630.0 343.8L630.6 336.9L634.4 330.0L641.9 328.8L646.9 340.6L648.1 341.2L651.2 333.8L648.8 330.0L650.6 325.6L661.9 323.1L662.5 318.8L665.0 316.2L666.9 322.5L672.5 323.1L673.1 318.1L675.0 316.9L675.0 316.2L673.1 313.8L668.8 312.5L664.4 308.8L663.1 302.5L659.4 298.1L656.2 292.5L658.8 286.9L667.5 283.5L670.0 285.6L670.6 282.8L677.5 279.8L679.0 272.5L682.8 270.0L691.2 261.9L695.0 256.2L700.0 260.0L702.5 262.5L707.5 261.5L712.5 268.8L714.8 271.9L715.2 274.4L719.4 275.0L721.2 268.8L724.4 267.5L725.6 272.5L730.0 270.2L737.5 275.0L741.9 280.6L746.2 281.9L748.8 290.0L750.0 297.5L753.8 305.0L751.9 311.9L760.0 313.1L766.2 305.0L765.0 308.8L775.0 297.5L781.2 288.8L787.5 286.2L790.0 277.5L795.0 267.5L797.5 258.8L806.2 252.5L811.2 247.5L811.1 248.0L811.1 236.0L818.6 226.0L824.2 216.0L828.6 209.1L834.9 205.4L841.1 201.6L843.6 198.5L843.0 196.0L836.8 194.1L838.6 187.2Z" fill="#ededed" stroke="#222" stroke-width="0.95"/>
<path d="M766.2 323.8L760.0 328.1L751.2 330.0L748.1 336.2L746.9 341.2L744.4 344.4L745.6 347.5L748.1 349.4" fill="none" stroke="#9a9a9a" stroke-width="0.4"/>
<path d="M682.8 270.0L687.5 274.4L691.2 277.5L694.4 276.5L698.1 275.6L698.8 280.0L705.0 278.8L714.4 276.9M700.0 260.0L696.9 263.8L695.0 270.0L699.0 272.5L698.1 275.6M714.8 271.9L714.4 276.9L715.0 282.5L713.8 287.5L711.2 286.2L706.9 286.2L706.2 293.1L701.9 295.0L701.2 300.0L702.5 305.0M670.6 282.8L670.6 288.8L675.0 287.5L682.8 286.9L685.0 283.1L690.0 280.6L691.2 277.5M682.8 286.9L685.0 293.8L688.1 300.0L685.6 305.0L686.2 306.9M725.6 272.5L726.2 277.5L730.0 283.8L735.0 288.8L742.5 291.9L748.1 290.0M750.0 298.1L745.0 298.1L740.0 301.2L736.2 305.6L735.6 308.1L737.5 311.2L743.8 313.8L746.2 320.0M735.6 308.1L731.2 305.6L727.5 308.8L725.6 315.0L730.0 315.0L737.5 311.2M725.6 315.0L726.2 318.1L721.2 322.0M630.6 343.8L633.8 347.5L634.4 351.9L640.0 351.9L646.2 345.6L648.1 341.2M620.0 353.1L630.0 353.5L634.4 351.9M640.0 351.9L641.2 356.2L640.6 360.0L642.5 362.5M611.9 363.8L620.0 363.1L627.5 362.5L631.2 360.0L632.5 355.6L634.4 351.9M668.8 331.2L664.8 333.1L665.6 338.8L666.0 343.8L663.8 347.2M682.5 331.9L678.1 338.8L677.5 345.0L678.8 350.0L677.5 353.1L673.8 361.2L668.8 368.1L660.6 363.1L660.0 361.9M660.6 363.1L655.0 365.6L653.1 370.0L654.4 375.0L655.0 382.0M668.8 368.1L666.2 370.0L666.5 382.0M689.4 331.9L696.2 338.8L699.4 346.2L696.2 348.8L691.9 350.0L693.8 353.8L698.1 357.5L701.9 358.8M677.5 353.1L683.1 353.1L685.0 357.5L683.8 365.0L686.2 370.0L690.0 373.8L695.0 375.0L698.8 371.2L703.8 367.5L705.0 362.5L701.9 358.8L698.8 358.1L693.8 356.2L690.0 357.5L685.0 357.5M701.9 358.8L703.8 347.5L706.2 343.1L713.8 342.5L716.2 338.8L718.0 335.0M695.0 375.0L696.2 380.0L698.8 382.0M703.8 367.5L707.5 370.6L713.8 371.2L718.0 370.0M705.0 362.5L707.5 358.8L718.0 355.0M621.2 382.0L626.2 388.2L630.6 390.1L627.5 397.0L626.2 402.0M640.0 381.4L636.9 388.2L636.5 392.6L640.0 393.2L655.0 392.6L658.1 398.9L660.0 403.2L663.8 403.2M636.5 392.6L633.1 394.2L631.9 400.1L627.5 402.0M640.0 393.2L640.6 398.9L645.0 402.0L645.6 407.0L642.5 412.0L637.5 412.6L632.5 408.9L625.6 408.9M645.6 407.0L647.5 409.5L658.1 420.1M650.0 372.0L652.5 375.8L655.0 392.6M655.0 375.8L659.4 388.2L662.5 395.8L663.1 398.9M660.0 403.2L659.4 408.2L661.9 413.9L658.1 420.1M676.2 405.1L681.2 410.8L685.0 417.6L685.6 423.2M677.5 396.4L683.8 395.1L688.8 397.0L691.2 400.8L689.4 408.2L688.1 413.2L685.0 417.6M691.2 400.8L695.0 402.0L698.8 400.1L701.9 398.2L700.0 394.5L697.5 390.8L697.5 387.0L700.6 383.2L696.2 378.9L695.6 374.5L697.5 372.0M700.6 383.2L706.2 387.0L710.6 392.6L708.1 398.9L705.6 405.1L701.9 406.4L697.5 403.2L695.0 402.0M701.9 406.4L703.8 413.2L704.4 418.9L704.4 427.0M704.4 418.9L718.0 417.6M710.6 392.6L718.0 390.8M708.1 403.2L716.2 407.0L718.0 409.5M700.6 383.2L706.2 380.8L711.2 377.6L715.0 372.0M616.9 422.0L626.2 420.1L630.0 422.0L632.5 425.1L626.2 428.2L625.0 433.2L616.9 433.9M632.5 425.1L637.5 425.8L641.2 424.5L646.2 427.0L648.8 430.8M626.2 442.5L627.5 451.2L628.1 457.5M626.2 442.5L630.0 442.5L634.4 448.8L640.0 447.5L644.4 446.9M730.6 305.0L736.2 309.4L741.2 312.5L745.6 317.5L746.9 322.5L755.0 321.9L758.8 318.8M730.0 306.2L726.9 309.4L725.6 315.6L726.9 317.5L736.2 312.5L736.9 310.0M725.6 317.5L722.5 320.6L721.9 326.2L717.5 328.8L713.1 325.6M717.5 328.8L716.9 335.0L716.2 340.0L714.4 342.5L705.0 343.1L703.1 348.8L701.9 358.8M721.9 321.2L724.4 327.5L723.1 338.1M746.9 322.5L743.1 326.9L740.0 333.8L736.2 341.2M740.0 330.0L731.2 330.0L729.4 336.9M721.2 355.0L712.5 356.2L706.2 358.8L701.9 358.8M725.0 356.2L728.1 363.8L728.8 370.0L733.8 370.0L736.2 366.9L745.6 363.1M701.9 358.8L705.0 363.8L702.5 368.1L707.5 371.2L713.8 370.0L720.0 371.2L722.5 369.4L728.8 370.0M713.8 370.6L711.2 377.0M722.5 370.6L730.0 373.1L733.1 377.0M773.8 336.2L786.2 333.8L790.0 338.8L793.1 342.5M786.2 333.8L788.1 330.6L792.5 331.2L799.4 328.1L800.6 321.9L791.2 316.9M788.1 330.6L785.0 325.0L791.2 316.9M799.4 328.1L806.2 331.9M775.0 336.9L775.6 341.2L777.5 343.8L775.0 346.2L776.2 352.5L778.1 355.0L770.6 354.4M766.9 348.1L770.0 352.5L770.6 354.4M787.5 355.6L797.5 358.8L800.0 359.4M797.5 358.8L798.8 366.2L795.0 370.0L791.2 373.8L790.0 377.0M798.8 366.2L807.5 368.8L807.5 377.0M768.1 358.1L763.1 363.8L761.9 365.0M700.0 382.0L705.6 384.5L711.2 393.2L707.5 402.0L702.5 406.4L700.0 407.0M711.2 393.2L723.8 388.9L726.9 392.0L728.1 400.1L725.6 405.8L720.0 409.5L716.2 408.2L707.5 402.0M723.8 388.9L725.6 382.0L729.4 380.8L733.8 383.9L735.0 380.8L733.8 377.0M733.8 383.9L733.8 389.5L736.9 395.8L736.9 402.0L730.0 403.2L728.1 409.5L729.4 413.9L736.2 416.4L738.1 417.0M735.0 380.8L743.8 384.5L752.5 386.4L755.0 383.9L766.9 380.8M752.5 386.4L755.0 390.8L754.4 395.1L758.8 400.8M736.9 402.0L748.1 408.9M720.0 409.5L720.0 413.2L715.6 417.6L703.8 418.2L701.9 407.0M703.8 418.2L705.0 427.0M720.0 412.0L728.1 412.6M756.2 410.1L748.1 424.5L749.4 429.5L747.5 442.0M768.1 387.6L775.0 392.0L779.4 397.0L771.9 405.8L776.2 419.5L780.0 420.1M760.6 400.8L765.0 407.0L770.6 408.2L771.9 405.8M779.4 397.0L782.5 384.5L787.5 382.0L790.0 377.0M787.5 382.0L795.0 386.4L803.8 387.6L808.1 378.9M803.8 387.6L805.0 393.2L807.5 398.2L806.2 402.0M779.4 397.6L792.5 400.1L795.6 393.9L797.5 394.5L800.0 400.8L804.4 402.0M779.4 398.2L780.6 409.5L782.5 415.1L792.5 413.2M780.0 420.1L771.9 428.2L763.8 435.8L752.5 442.0L749.4 445.1M782.5 420.8L777.5 430.8L765.0 439.5L752.5 445.1M780.0 420.1L787.5 420.8M858.1 352.5L861.2 348.8L867.5 346.2L871.2 345.6L869.4 352.5L870.0 358.8L873.1 363.8L876.2 365.6L894.4 364.4L900.6 360.6M876.2 365.6L873.1 370.6L867.5 377.5L865.0 378.1L861.2 374.4L861.2 369.4L857.5 365.0M876.2 368.1L887.5 371.2L893.8 375.6L898.1 378.8L898.8 383.8M865.0 378.1L866.2 383.8L865.6 389.4L860.0 396.2L855.0 395.0L849.4 388.1L842.5 383.8L848.8 378.8L855.0 375.6L861.2 374.4M865.6 389.4L872.5 398.1M842.5 383.8L836.9 380.0L833.8 382.5L834.4 388.8L838.1 391.2L837.5 396.2L841.2 398.1L848.8 401.9L853.8 399.4L855.0 395.0M836.9 380.0L842.5 367.5L842.5 365.0M836.9 376.9L830.6 373.1L826.9 372.5L822.5 376.9L817.5 378.1L813.8 377.5L808.1 378.8L806.9 375.0L807.5 369.4M829.4 360.6L826.9 372.5M808.1 378.8L803.8 387.5L805.6 391.2L803.1 395.0L806.2 398.8L811.9 396.9M853.8 399.4L852.5 403.8L855.6 412.0M800.0 368.8L807.5 369.4L808.1 373.8M800.0 387.5L803.8 387.5M852.5 340.0L855.0 345.0L860.0 348.8M845.0 340.0L847.5 347.5L854.4 347.8M867.5 346.2L865.0 342.5L866.2 340.0M860.5 219.1L869.9 221.0L869.2 222.9L861.8 225.4L858.6 227.2L859.2 231.0L863.0 234.8M834.9 231.6L838.0 234.8L839.2 239.8L851.8 241.0L853.0 243.5M828.0 238.5L831.1 237.9L830.5 243.5M832.5 300.0L830.0 305.0L837.5 315.0L846.2 305.0L852.5 301.2M837.5 315.0L838.8 325.0L845.0 332.5L847.5 342.5L845.0 348.8M880.0 326.2L883.8 335.0L877.5 341.2L870.0 340.0L863.8 345.0M822.5 307.5L820.0 315.0L825.0 325.0M813.8 312.5L810.0 317.5L806.2 325.0M787.5 330.0L793.8 343.8M868.8 331.2L860.0 329.8L852.5 338.1L853.8 343.8L858.1 351.2L861.9 348.8L863.8 345.0M861.9 348.8L870.0 346.2L871.2 355.0L870.0 362.0M868.8 331.9L878.8 326.2M883.8 333.8L887.5 332.5L892.5 333.1L900.0 338.8M855.6 412.0L857.8 415.2L862.8 419.0M872.5 398.1L870.2 405.2L867.8 411.5L866.5 417.8L862.8 419.6M839.0 398.4L844.0 401.5L851.5 400.2" fill="none" stroke="#333" stroke-width="0.55"/>
<path d="M760.0 312.8L758.8 318.8L766.2 322.5L771.9 326.2L773.8 336.2L768.8 341.2L766.9 348.1L762.5 345.6L758.8 346.9L754.4 351.9L747.5 350.0L748.1 354.4L745.6 362.5L751.9 360.0L757.5 363.1L761.9 365.0L763.1 370.6L768.1 370.0L772.5 373.8L773.8 377.0M773.8 377.0L768.1 380.1L768.1 387.6L762.5 393.2L760.6 400.8L758.1 401.4L756.2 410.1L748.1 408.9L742.5 414.5L738.1 417.0L737.5 429.5L736.2 442.0" fill="none" stroke="#1a1a1a" stroke-width="0.9"/>
<path d="M802.5 437.0L810.0 436.2L820.0 438.8L825.0 442.5L833.8 441.2L834.5 447.5L825.0 451.2L823.8 455.0L820.0 457.5L813.8 465.0L806.2 469.2L801.2 466.2L795.0 460.0L794.5 450.0L797.5 442.5ZM870.0 407.5L873.8 401.2L880.0 396.2L885.0 402.5L888.8 406.2L890.0 411.2L889.5 417.5L896.2 425.0L892.5 430.0L888.8 436.2L885.0 439.5L877.5 438.8L870.0 433.8L862.5 430.0L862.0 426.2L866.2 420.0L867.5 412.5ZM880.0 396.2L885.0 392.5L895.0 390.0L896.2 383.8L904.5 383.8L905.0 400.0L909.5 402.5L906.2 407.5L902.5 412.5L900.0 417.5L896.2 425.0L889.5 417.5L890.0 411.2L888.8 406.2L885.0 402.5ZM668.0 324.2L673.8 318.0L676.2 311.2L686.2 303.8L690.0 305.0L693.8 302.0L697.5 304.5L703.8 303.8L709.5 310.0L706.2 311.2L705.0 318.0L711.2 317.5L715.5 321.2L713.8 326.2L706.2 322.0L700.0 321.2L695.0 326.2L690.0 331.2L672.5 331.2L669.5 328.8ZM768.1 358.1L770.6 354.4L780.0 355.0L787.5 355.6L788.1 357.5L782.5 362.5L777.5 366.2L773.1 373.1L768.1 370.0L772.5 363.8L770.0 360.6ZM856.8 191.0L868.0 196.6L878.0 199.8L876.8 202.9L877.4 212.2L873.6 212.2L870.5 209.8L866.8 213.5L863.6 211.6L861.1 213.5L860.5 219.1L853.6 214.8L851.8 207.2L853.6 204.1L853.6 196.0ZM878.0 199.8L890.5 202.2L901.8 203.8L909.2 204.1L910.5 206.0L911.1 209.1L918.6 213.5L919.2 222.9L916.1 224.1L914.2 229.8L910.5 236.0L906.8 232.2L904.2 227.2L901.8 224.1L895.5 224.8L886.8 221.0L881.8 218.5L879.9 214.1L877.4 212.2L876.8 202.9ZM824.2 216.0L837.4 227.2L834.9 231.6L828.0 238.5L825.5 241.0L827.4 246.0L811.8 246.6L811.1 236.0L818.6 226.0ZM811.8 246.5L820.0 246.2L827.2 246.0L828.0 248.8L833.8 252.5L830.0 260.0L826.2 266.2L821.2 268.8L818.0 263.8L818.8 250.0L811.2 247.5ZM833.8 252.5L842.0 253.8L842.5 260.0L846.2 266.2L852.5 265.0L862.5 268.8L860.0 272.5L842.5 277.5L826.2 266.2L830.0 260.0ZM842.0 253.8L847.5 247.5L852.5 245.0L856.2 245.0L860.0 251.2L865.0 255.0L870.0 258.8L875.5 262.0L878.8 265.5L872.5 276.0L871.8 279.0L870.0 275.0L860.0 272.5L862.5 268.8L852.5 265.0L846.2 266.2L842.5 260.0ZM891.2 249.8L897.5 251.6L900.6 252.2L901.9 261.0L905.0 268.5L908.8 273.5L907.5 279.1L905.0 283.5L903.1 289.1L891.9 294.1L891.2 297.9L887.5 302.9L882.5 300.4L875.6 289.8L874.4 284.8L871.9 279.1L872.5 276.0L878.8 265.4L887.5 258.5ZM901.9 245.4L904.4 237.9L908.8 237.2L913.8 238.5L922.5 237.5L925.0 239.1L924.4 243.5L925.6 248.5L917.5 247.9L913.8 242.9L905.0 242.2L902.5 246.0ZM908.8 273.5L913.8 271.0L921.2 271.0L926.9 273.5L928.1 283.5L935.6 284.8L936.2 286.0L935.0 288.5L925.0 289.8L916.9 291.0L915.6 287.2L911.2 286.0L903.1 289.1L905.0 283.5L907.5 279.1ZM891.9 294.1L903.1 289.1L911.2 286.0L915.6 287.2L916.9 291.0L916.2 294.8L911.2 296.0L908.1 298.5L906.2 306.9L901.2 306.2L895.6 312.5L893.1 314.4L887.5 315.0L887.5 303.1L890.6 298.8L891.2 295.6L891.2 297.9ZM916.9 291.0L925.0 289.8L935.0 288.5L936.2 286.0L940.6 291.6L946.2 286.6L948.8 283.5L950.6 281.0L951.9 284.1L951.2 288.5L947.5 294.8L948.8 299.8L952.5 304.1L948.8 306.2L953.8 313.8L955.0 315.6L953.8 315.0L942.5 316.9L936.2 316.2L930.0 313.1L923.8 312.5L915.0 311.2L912.5 311.2L908.1 307.5L908.8 301.9L915.0 296.2L915.6 295.8L916.2 294.8ZM877.5 323.1L884.4 320.0L887.5 315.0L893.1 314.4L897.5 315.0L904.4 317.5L905.0 318.8L907.5 322.5L911.2 325.0L905.0 327.5L900.6 330.0L898.8 335.6L892.5 332.5L887.5 331.9L883.8 333.8L880.0 327.5ZM898.8 335.6L900.6 330.0L905.0 327.5L911.2 325.0L920.0 326.2L927.5 328.1L931.2 326.2L937.5 326.9L946.2 328.8L951.2 330.0L951.2 334.4L948.1 335.6L946.2 333.1L945.6 336.9L940.0 341.9L935.0 343.8L933.8 345.0L930.0 343.8L928.8 337.5L923.8 334.4L917.5 335.0L915.0 337.5L905.0 340.0L900.0 338.8ZM859.4 323.8L858.8 316.2L860.6 311.9L864.4 309.4L867.5 315.0L869.4 321.2L870.0 326.9L868.8 331.2L865.0 330.6L860.6 327.5ZM818.8 327.5L825.0 325.0L832.5 324.5L833.8 335.0L842.5 345.0L836.2 348.8L832.5 346.2L830.0 342.5L821.2 341.2L817.0 341.2L816.2 335.0ZM809.4 352.5L813.8 345.0L820.6 342.5L826.9 343.1L830.6 347.5L832.5 352.5L829.4 360.6L821.9 359.4L817.5 360.6L812.5 357.5ZM837.5 352.5L841.2 350.6L850.0 350.0L854.4 347.8L858.1 352.5L857.5 364.4L852.5 365.0L848.1 368.1L842.5 365.0L840.0 360.0ZM806.2 296.2L810.0 292.5L818.8 288.8L828.8 290.0L831.2 293.8L836.2 293.8L832.5 300.0L830.0 306.2L823.8 308.8L813.8 313.8L807.5 311.2L803.8 310.0L806.2 307.5L805.0 300.0L803.8 305.0Z" fill="#52ae32" stroke="#2f6a22" stroke-width="0.45"/>
<path d="M886.8 221.0L890.5 216.0L894.2 212.2L901.8 213.5L902.4 218.5L901.8 224.1" fill="none" stroke="#2f6a22" stroke-width="0.45"/>
<path d="M811.2 247.5L818.8 250.0L818.0 263.8L812.5 264.5L797.5 258.8L806.2 252.5ZM797.5 258.8L812.5 264.5L818.0 263.8L821.2 268.8L818.8 283.8L810.0 285.0L805.0 281.2L800.0 275.0L795.0 266.2ZM821.2 268.8L826.2 266.2L842.5 277.5L837.5 285.0L836.2 293.8L831.2 293.8L828.8 290.0L818.8 288.8L810.0 292.5L805.0 287.5L805.0 281.2L810.0 285.0L818.8 283.8ZM842.5 277.5L860.0 272.5L870.0 275.0L871.8 279.0L866.2 281.2L863.8 292.5L857.5 291.2L855.0 296.2L842.5 293.8L837.5 290.0L837.5 285.0ZM866.2 281.2L871.8 279.0L874.2 284.8L875.5 289.8L882.5 300.2L887.5 302.8L887.5 303.1L887.5 315.0L884.4 320.0L877.5 323.1L870.0 330.0L869.4 321.2L867.5 315.0L864.4 309.4L860.6 311.9L858.8 313.1L855.6 308.8L852.5 302.5L856.2 298.8L855.0 296.2L857.5 291.2L863.8 292.5ZM858.8 237.5L866.2 235.0L868.8 238.8L870.0 245.0L873.8 248.8L873.0 252.5L877.5 255.0L875.5 262.0L870.0 258.8L865.0 255.0L860.0 251.2L856.2 245.0L852.5 243.8ZM893.8 248.5L896.9 244.5L901.2 243.5L902.5 246.0L905.0 242.2L913.8 242.9L917.5 247.9L926.2 249.1L935.0 254.8L945.0 257.9L950.6 261.0L946.2 266.0L946.9 271.0L950.6 278.5L948.8 283.5L946.2 286.6L940.6 291.6L936.2 286.0L935.6 284.8L928.1 283.5L926.9 273.5L921.2 271.0L913.8 271.0L908.8 273.5L905.0 268.5L901.9 261.0L900.6 252.2L897.5 251.6ZM766.2 306.2L777.5 290.0L785.0 287.5L805.0 292.5L806.2 296.2L803.8 305.0L803.1 305.0L804.4 312.5L803.8 321.2L798.8 320.0L791.2 316.9L785.0 320.0L778.8 321.2L773.8 315.6L770.0 308.8L766.9 306.2ZM905.0 318.8L908.8 315.0L915.0 311.2L923.8 312.5L930.0 313.1L936.2 316.2L942.5 316.9L953.8 315.0L957.5 316.9L967.5 319.8L958.8 325.0L951.2 330.0L946.2 328.8L937.5 326.9L931.2 326.2L927.5 328.1L920.0 326.2L911.2 325.0L907.5 322.5ZM900.0 338.8L905.0 340.0L915.0 337.5L917.5 335.0L923.8 334.4L928.8 337.5L930.0 343.8L933.8 345.0L935.0 343.8L933.8 351.2L929.4 351.2L928.1 357.5L922.5 357.5L918.1 355.0L917.5 351.9L906.9 350.0L905.0 345.0ZM793.1 342.5L798.8 341.2L806.2 331.9L806.0 323.8L810.0 326.9L811.2 331.9L816.9 340.6L813.1 346.2L808.8 352.5L800.0 359.4L797.5 352.5L795.6 346.2ZM811.2 397.5L813.8 397.0L815.0 401.2L820.0 397.5L825.0 396.2L832.5 398.8L839.5 399.5L840.0 402.5L834.5 409.5L827.5 407.0L817.5 405.0L810.0 403.8L812.5 402.0ZM810.0 403.8L817.5 405.0L827.5 407.0L834.5 409.5L833.2 418.8L823.8 420.0L816.2 419.5L813.8 413.8ZM786.2 425.0L788.8 420.0L792.5 412.5L800.0 410.0L805.0 405.0L810.0 403.8L813.8 413.8L816.2 419.5L806.2 423.8L797.5 430.0L788.8 430.0ZM797.5 430.0L806.2 423.8L816.2 419.5L823.8 420.0L821.2 426.2L822.5 432.5L820.0 438.8L810.0 436.2L802.5 437.0ZM823.8 420.0L833.2 418.8L832.5 427.5L833.8 441.2L825.0 442.5L820.0 438.8L822.5 432.5L821.2 426.2ZM833.2 418.8L835.0 417.0L843.8 420.0L852.5 422.5L860.0 421.2L862.0 426.2L861.2 430.0L858.8 432.5L856.2 438.8L855.0 445.0L850.0 448.8L841.2 452.5L835.0 448.8L834.5 442.5L833.8 441.2L832.5 427.5ZM788.8 430.0L797.5 430.0L802.5 437.0L797.5 442.5L794.5 450.0L795.0 460.0L792.5 463.8L777.5 464.5L770.0 458.8L772.5 456.2L780.0 450.0L782.5 440.0ZM646.9 346.2L650.6 343.1L653.8 345.0L656.2 347.5L663.8 347.2L668.1 353.1L665.0 356.2L660.0 361.9L656.9 358.8L655.6 351.9L650.0 351.9L647.5 350.0ZM615.0 372.5L616.9 371.2L623.8 369.4L627.5 369.8L631.2 372.5L630.0 378.1L625.0 380.6L619.4 378.1L616.2 376.2ZM631.2 369.4L638.8 367.8L642.5 362.5L646.2 366.2L647.5 372.5L646.9 378.8L642.5 381.0L638.1 380.0L635.0 375.0L632.5 371.9ZM666.2 376.4L668.8 375.8L671.9 378.2L671.2 383.2L669.4 389.5L675.0 394.5L677.5 399.5L676.2 404.5L672.5 405.5L665.0 403.2L662.5 398.9L665.0 393.2L666.2 384.5ZM723.1 338.8L730.0 337.8L734.4 340.6L736.2 345.0L735.6 349.4L733.1 354.4L723.1 356.2L721.2 354.4L722.5 347.5L723.8 342.5Z" fill="#156b49" stroke="#0d3b28" stroke-width="0.45"/>
</g>
<rect x="607" y="191" width="28.8" height="14.2" fill="#156b49"/>
<rect x="607" y="217" width="28.8" height="14.2" fill="#52ae32"/>
<g fill="#1d1d1b">
<text font-size="6.6" font-weight="bold" transform="translate(647.7 196.1) scale(0.843 1)">COMUNI RIFIUTI FREE</text>
<text font-size="6.6" transform="translate(647.7 204.1) scale(0.846 1)">(RD &gt; 65% e Procapite secco residuo &lt;75 kg/a/ab)</text>
<text font-size="6.6" font-weight="bold" transform="translate(647.7 222.1) scale(0.843 1)">COMUNI RICICLONI</text>
<text font-size="6.6" transform="translate(647.7 230.1) scale(0.846 1)">(RD &gt; 65%)</text>
</g>
<defs>
<radialGradient id="sph" cx="0.38" cy="0.32" r="0.75"><stop offset="0" stop-color="#ffffff"/><stop offset="0.35" stop-color="#f1f1f1"/><stop offset="0.7" stop-color="#cfcfcf"/><stop offset="1" stop-color="#a9a9a9"/></radialGradient>
<linearGradient id="lg1" x1="0" y1="0" x2="1" y2="1"><stop offset="0" stop-color="#9ccb3f"/><stop offset="1" stop-color="#cfe37a"/></linearGradient>
<linearGradient id="lg2" x1="0" y1="0" x2="0.4" y2="1"><stop offset="0" stop-color="#cfe37a"/><stop offset="1" stop-color="#8fc43c"/></linearGradient>
<linearGradient id="lg3" x1="1" y1="0" x2="0" y2="1"><stop offset="0" stop-color="#8fc43c"/><stop offset="1" stop-color="#d3e684"/></linearGradient>
<linearGradient id="dk" x1="0" y1="0" x2="1" y2="1"><stop offset="0" stop-color="#2f8a3d"/><stop offset="1" stop-color="#155a2c"/></linearGradient>
</defs>
<g transform="translate(705 486) scale(0.15625)">
<circle cx="268" cy="262" r="148" fill="url(#sph)"/>
<path d="M185 290L205 250L235 238L265 240L290 210L315 198L340 215L345 250L330 285L300 310L265 318L235 305L200 305Z" fill="#b9b9b9"/>
<path d="M124 156L146 116L183 90L225 83L252 88L258 110L215 114L182 130L160 154L142 168Z" fill="url(#dk)"/>
<path d="M412 202L432 196L451 235L455 275L443 317L427 333L404 338L418 290L423 250Z" fill="url(#dk)"/>
<path d="M122 356L142 350L167 383L200 402L242 411L242 440L193 434L152 408L127 382Z" fill="url(#dk)"/>
<path d="M225 78L290 75L345 88L380 105L390 96L392 145L385 188L340 170L295 155L308 142L285 115L255 95Z" fill="url(#lg1)"/>
<path d="M62 238L100 215L142 198L150 240L165 272L150 282L135 310L128 335L120 385L95 345L72 295Z" fill="url(#lg2)"/>
<path d="M268 400L340 342L343 362L385 352L440 328L425 375L390 415L350 440L348 447Z" fill="url(#lg3)"/>
</g>
<g fill="#58585a" font-weight="bold">
<text font-size="9.4" stroke="#58585a" stroke-width="0.25" transform="translate(788.4 519.1) scale(0.757 1)">COMUNI RICICLONI</text>
<text font-size="25.4" stroke="#58585a" stroke-width="0.45" transform="translate(788.8 543.1) scale(0.678 1)">MOLISE</text>
</g>
<g transform="translate(920 494) scale(0.09025)">
<path d="M125 212L133 150Q140 92 183 57Q250 47 313 43Q346 45 358 75L368 98L411 71L436 62Q465 52 491 49Q520 48 534 55L544 68L552 76L559 86Q572 92 574 105Q576 125 565 142L560 170L568 192Q578 195 577 205Q577 218 568 228L560 255L568 271Q576 280 574 290Q574 305 568 314L556 335L553 351Q568 360 574 394Q575 420 559 437Q540 468 510 486Q475 508 436 517Q390 526 343 526Q295 525 251 517Q215 508 183 492Q150 475 134 455Q115 432 110 406Q108 385 113 363Q122 335 140 314Q160 292 183 280L205 283L205 271Q210 245 220 222Q232 202 251 185L313 138L337 120Q325 108 313 105Q300 93 288 92Q275 91 263 95Q243 106 226 123L199 148L190 172Z" fill="#0fa258"/>
<g fill="none" stroke="#fff" stroke-linecap="round" stroke-linejoin="round">
<path d="M485 77Q454 101 439 129Q431 160 427 209Q420 255 412 290Q398 325 378 355Q345 385 310 402L288 408Q265 402 252 385Q230 360 210 328Q203 295 205 275" stroke-width="12"/>
<path d="M199 388Q188 415 214 431Q251 437 294 419Q320 408 340 392" stroke-width="11"/>
<path d="M233 437Q262 478 313 502Q340 508 362 505" stroke-width="11"/>
<path d="M282 431Q320 465 374 489Q425 497 460 480Q475 468 473 455" stroke-width="11"/>
<path d="M340 400Q386 425 448 431Q510 425 540 388Q552 370 553 352" stroke-width="11"/>
<path d="M146 130Q180 128 211 114" stroke-width="10"/>
<path d="M165 95Q185 95 192 112" stroke-width="8"/>
<path d="M150 163L176 152" stroke-width="7"/>
</g>
<g fill="#fff">
<circle cx="234" cy="386" r="21"/>
<path d="M443 146L473 141L504 122L534 86L543 69L553 76L559 87L534 121L491 148L437 158Z"/>
<path d="M431 203L491 194L534 172L565 142L572 165L568 192L540 206L491 225L427 231Z"/>
<path d="M420 271L491 265L534 252L568 228L573 250L568 271L547 277L491 289L414 296Z"/>
<path d="M402 322L473 334L534 326L568 309L574 322L540 340L485 348L396 336Z"/>
</g>
</g>
<text font-size="13.4" font-weight="bold" fill="#111" stroke="#111" stroke-width="0.55" transform="translate(900.7 557.5) scale(1.02 1)">LEGAMBIENTE</text>

</g>
</svg>
</body></html>
